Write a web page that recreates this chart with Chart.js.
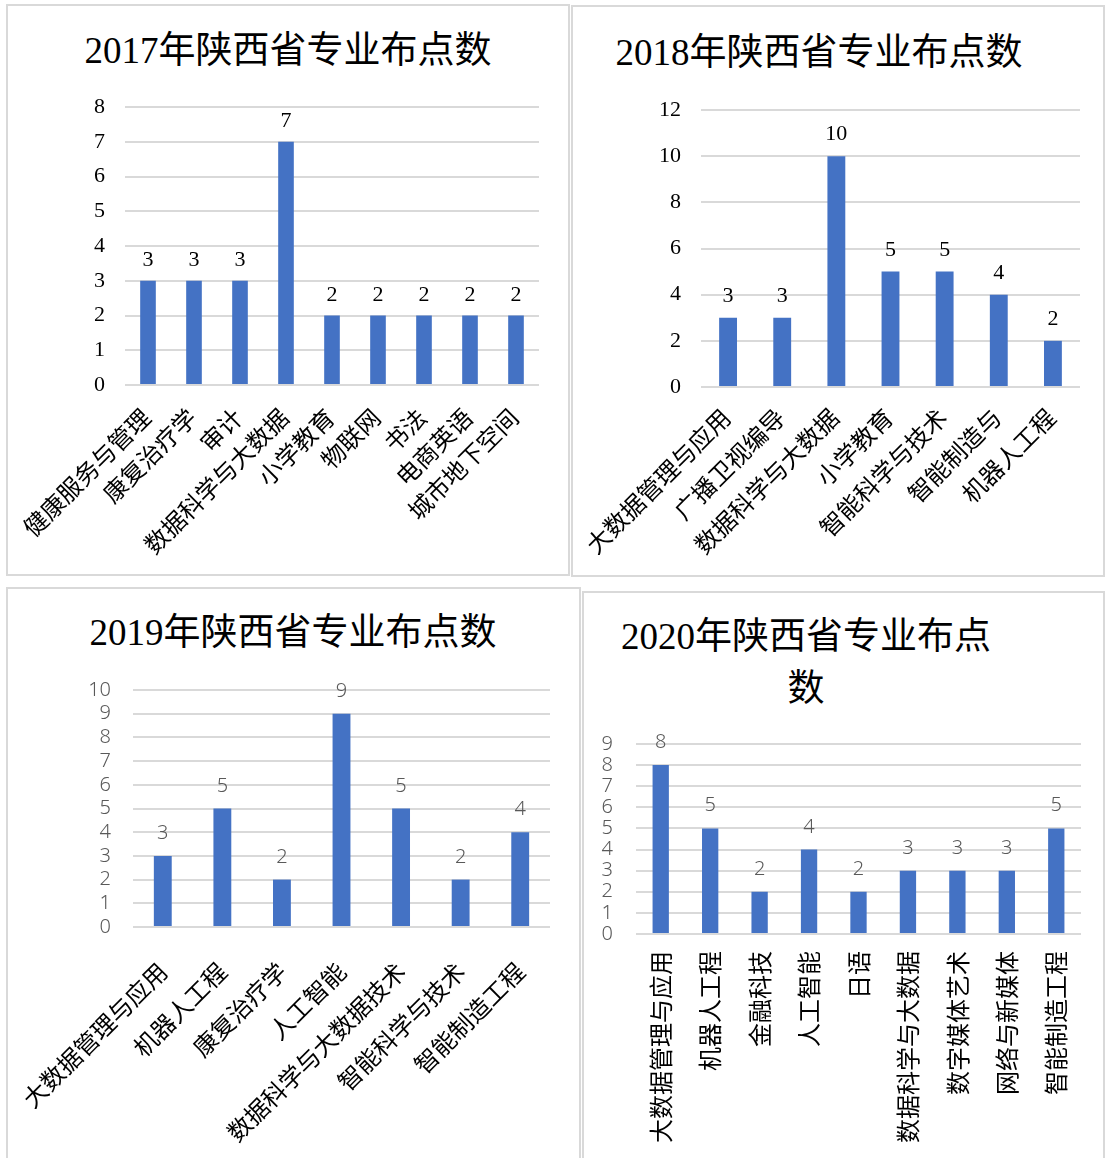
<!DOCTYPE html>
<html>
<head>
<meta charset="utf-8">
<script src="https://cdn.jsdelivr.net/npm/chart.js@4.4.0/dist/chart.umd.min.js"></script>
<style>
  body { margin: 0; background: #fff; width: 1105px; height: 1158px; position: relative; overflow: hidden; }
  .box { position: absolute; border: 2px solid #d9d9d9; box-sizing: border-box; }
  .title { position: absolute; width: 600px; text-align: center; white-space: nowrap;
           font-family: 'Noto Sans CJK SC';
           font-size: 37px; line-height: 48px; color: #000; }
  .title b { font-family: 'Liberation Serif'; font-weight: normal; }
  canvas { position: absolute; }
</style>
</head>
<body>
<div class="box" style="left:6px;top:4px;width:564px;height:572px"></div>
<div class="box" style="left:571px;top:5px;width:534px;height:572px"></div>
<div class="box" style="left:6px;top:587px;width:575px;height:575px"></div>
<div class="box" style="left:582px;top:591px;width:523px;height:570px"></div>

<div class="title" style="left:-12px;top:23px"><b>2017</b>年陕西省专业布点数</div>
<div class="title" style="left:519px;top:25px"><b>2018</b>年陕西省专业布点数</div>
<div class="title" style="left:-7px;top:605px"><b>2019</b>年陕西省专业布点数</div>
<div class="title" style="left:506px;top:609px"><b>2020</b>年陕西省专业布点<br>数</div>

<canvas id="c2017" width="560" height="568" style="left:8px;top:6px"></canvas>
<canvas id="c2018" width="530" height="568" style="left:573px;top:7px"></canvas>
<canvas id="c2019" width="571" height="568" style="left:8px;top:589px"></canvas>
<canvas id="c2020" width="519" height="565" style="left:584px;top:593px"></canvas>

<script>
const majors2017 = ['健康服务与管理', '康复治疗学', '审计', '数据科学与大数据', '小学教育', '物联网', '书法', '电商英语', '城市地下空间'];
const counts2017 = [3, 3, 3, 7, 2, 2, 2, 2, 2];

const majors2018 = ['大数据管理与应用', '广播卫视编导', '数据科学与大数据', '小学教育', '智能科学与技术', '智能制造与', '机器人工程'];
const counts2018 = [3, 3, 10, 5, 5, 4, 2];

const majors2019 = ['大数据管理与应用', '机器人工程', '康复治疗学', '人工智能', '数据科学与大数据技术', '智能科学与技术', '智能制造工程'];
const counts2019 = [3, 5, 2, 9, 5, 2, 4];

const majors2020 = ['大数据管理与应用', '机器人工程', '金融科技', '人工智能', '日语', '数据科学与大数据', '数字媒体艺术', '网络与新媒体', '智能制造工程'];
const counts2020 = [8, 5, 2, 4, 2, 3, 3, 3, 5];

const SERIF = "'Liberation Serif', 'Noto Sans CJK SC'";
const SANS = "'Noto Sans CJK SC', 'Noto Sans'";
const BLUE = '#4472C4';

function valueLabels(font, color, gap) {
  return {
    id: 'valueLabels',
    afterDatasetsDraw(chart) {
      const ctx = chart.ctx;
      const meta = chart.getDatasetMeta(0);
      ctx.save();
      ctx.font = font;
      ctx.fillStyle = color;
      ctx.textAlign = 'center';
      ctx.textBaseline = 'alphabetic';
      meta.data.forEach((bar, i) => {
        ctx.fillText(chart.data.datasets[0].data[i], bar.x, bar.y - gap);
      });
      ctx.restore();
    }
  };
}

function barChart(id, labels, values, o) {
  return new Chart(document.getElementById(id), {
    type: 'bar',
    data: {
      labels: labels,
      datasets: [{ data: values, backgroundColor: BLUE, barPercentage: o.bar, categoryPercentage: 1 }]
    },
    options: {
      responsive: false,
      animation: false,
      layout: { padding: o.pad },
      plugins: { legend: { display: false }, tooltip: { enabled: false } },
      scales: {
        x: {
          grid: { display: false },
          border: { display: false },
          ticks: { autoSkip: false, minRotation: o.rot, maxRotation: o.rot, padding: o.xPad, color: '#000', font: o.xFont },
          // rotated labels are allowed to run into the left margin
          afterFit: s => { s.height = o.xH; s.paddingLeft = 0; s.paddingRight = 0; }
        },
        y: {
          min: 0,
          max: o.max,
          grid: { color: '#d9d9d9', lineWidth: 2, drawTicks: false },
          border: { display: false },
          ticks: { stepSize: o.step, autoSkip: false, padding: o.yPad, color: o.tickColor, font: o.yFont },
          afterFit: s => { s.width = o.yW; }
        }
      }
    },
    plugins: [valueLabels(o.labelFont, o.tickColor, o.gap)]
  });
}

barChart('c2017', majors2017, counts2017, {
  bar: 0.34, max: 8, step: 1, rot: 45,
  pad: { left: 0, right: 29, top: 101, bottom: 0 }, yW: 117, xH: 189,
  xPad: 12, yPad: 20, tickColor: '#000',
  xFont: { family: SERIF, size: 24 }, yFont: { family: SERIF, size: 22 },
  labelFont: '22px ' + SERIF, gap: 15
});

barChart('c2018', majors2018, counts2018, {
  bar: 0.33, max: 12, step: 2, rot: 45,
  pad: { left: 0, right: 23, top: 103, bottom: 0 }, yW: 128, xH: 188,
  xPad: 10, yPad: 20, tickColor: '#000',
  xFont: { family: SERIF, size: 24 }, yFont: { family: SERIF, size: 22 },
  labelFont: '22px ' + SERIF, gap: 16
});

barChart('c2019', majors2019, counts2019, {
  bar: 0.3, max: 10, step: 1, rot: 45,
  pad: { left: 0, right: 29, top: 101, bottom: 0 }, yW: 125, xH: 230,
  xPad: 22, yPad: 22, tickColor: '#595959',
  xFont: { family: SANS, size: 24 }, yFont: { family: "'Noto Sans'", size: 20, weight: 300 },
  labelFont: "300 20px 'Noto Sans'", gap: 17
});

barChart('c2020', majors2020, counts2020, {
  bar: 0.33, max: 9, step: 1, rot: 90,
  pad: { left: 0, right: 22, top: 151, bottom: 0 }, yW: 52, xH: 224,
  xPad: 9, yPad: 23, tickColor: '#595959',
  xFont: { family: SANS, size: 24 }, yFont: { family: "'Noto Sans'", size: 20, weight: 300 },
  labelFont: "300 20px 'Noto Sans'", gap: 17
});
</script>
</body>
</html>
